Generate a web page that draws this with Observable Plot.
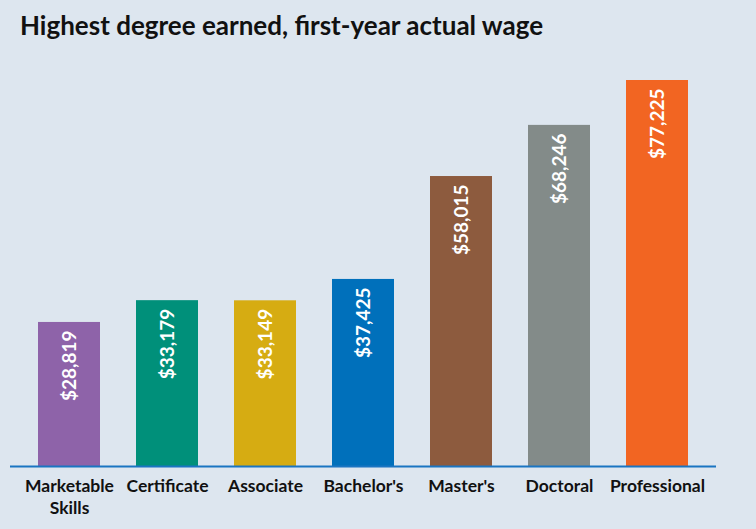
<!DOCTYPE html>
<html><head><meta charset="utf-8">
<script src="https://cdn.jsdelivr.net/npm/d3@7"></script>
<script src="https://cdn.jsdelivr.net/npm/@observablehq/plot@0.6"></script>
<style>
html,body{margin:0;padding:0;background:#dde6ef;}
#wrap{width:756px;height:529px;background:#dde6ef;overflow:hidden;}
h1{margin:0;padding:9px 0 0 20px;height:39px;box-sizing:border-box;font-family:Lato,sans-serif;font-weight:700;font-size:26px;line-height:32px;color:#111;letter-spacing:0;}
</style></head>
<body><div id="wrap"><h1>Highest degree earned, first-year actual wage</h1><div id="chart"></div></div>
<script>
const categories = ["Marketable\nSkills","Certificate","Associate","Bachelor's","Master's","Doctoral","Professional"];
const wages = [28819,33179,33149,37425,58015,68246,77225];
const colors = ["#8e63a9","#00907a","#d6ac12","#0070bb","#8d5b3e","#838b89","#f26522"];
const data = categories.map((c,i)=>({cat:c, wage:wages[i], color:colors[i]}));
const fmt = d3.format("$,");
const chart = Plot.plot({
  width:756, height:490,
  marginTop:41, marginBottom:63, marginLeft:19, marginRight:50,
  style:{background:"transparent", fontFamily:"Lato, sans-serif"},
  x:{domain:categories, paddingInner:0.368, paddingOuter:0.184, label:null},
  y:{domain:[0,77225], axis:null},
  marks:[
    Plot.barY(data,{x:"cat", y:"wage", fill:"color"}),
    Plot.ruleY([0],{stroke:"#1a75c2", strokeWidth:2, insetLeft:-9, insetRight:-10}),
    Plot.text(data,{x:"cat", y:"wage", text:d=>fmt(d.wage), rotate:-90, textAnchor:"end", dy:8, fill:"white", fontSize:19, fontWeight:700}),
    Plot.axisX({tickSize:0, tickPadding:10, fontSize:17.5, fontWeight:700, fill:"#111", lineHeight:1.25, label:null})
  ]
});
document.getElementById("chart").appendChild(chart);
</script></body></html>
